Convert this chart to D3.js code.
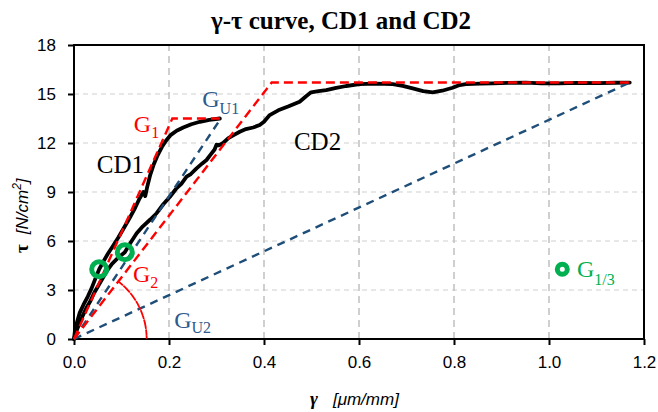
<!DOCTYPE html>
<html>
<head>
<meta charset="utf-8">
<script src="https://cdn.jsdelivr.net/npm/d3@7"></script>
<style>
  body { margin: 0; background: #fff; }
  svg { display: block; }
  .tick text { font-family: "Liberation Sans", Arial, sans-serif; font-size: 17px; fill: #000; }
</style>
</head>
<body>
<svg id="chart"></svg>
<script>
// gamma [um/mm], tau [N/cm2]
const cd1 = [
  [0, 0], [0.002, 0.5], [0.006, 1.0], [0.012, 1.6], [0.020, 2.1], [0.029, 2.6],
  [0.037, 3.1], [0.045, 3.7], [0.053, 4.27], [0.062, 4.75], [0.071, 5.2], [0.082, 5.7],
  [0.093, 6.2], [0.105, 6.8], [0.118, 7.45], [0.129, 8.05], [0.138, 8.6], [0.146, 9.0],
  [0.150, 8.75], [0.154, 9.3], [0.160, 10.0], [0.168, 10.7], [0.176, 11.25], [0.185, 11.75],
  [0.194, 12.15], [0.204, 12.5], [0.216, 12.75], [0.230, 12.95], [0.247, 13.15],
  [0.265, 13.3], [0.285, 13.42], [0.307, 13.5]
];
const cd2 = [
  [0, 0], [0.004, 0.4], [0.010, 0.85], [0.018, 1.4], [0.026, 1.9], [0.034, 2.3],
  [0.042, 2.8], [0.050, 3.2], [0.060, 3.7], [0.070, 4.2], [0.080, 4.6], [0.092, 4.95],
  [0.107, 5.31], [0.118, 5.85], [0.132, 6.47], [0.145, 6.9], [0.160, 7.3], [0.174, 7.7],
  [0.188, 8.25], [0.202, 8.71], [0.215, 9.2], [0.226, 9.5], [0.237, 9.94], [0.246, 10.1],
  [0.258, 10.45], [0.270, 10.75], [0.279, 10.96], [0.288, 11.3], [0.296, 11.6], [0.300, 11.9],
  [0.305, 11.85], [0.314, 12.0], [0.325, 12.3], [0.337, 12.5], [0.349, 12.69], [0.362, 12.85],
  [0.377, 12.95], [0.391, 13.1], [0.400, 13.3], [0.412, 13.71], [0.430, 14.0], [0.452, 14.25],
  [0.475, 14.53], [0.488, 14.85], [0.499, 15.1], [0.515, 15.18], [0.531, 15.24], [0.552, 15.38],
  [0.573, 15.49], [0.601, 15.61], [0.635, 15.63], [0.671, 15.61], [0.692, 15.5], [0.713, 15.35],
  [0.735, 15.18], [0.755, 15.1], [0.775, 15.2], [0.797, 15.38], [0.812, 15.55], [0.825, 15.61],
  [0.855, 15.63], [0.881, 15.65], [0.915, 15.68], [0.951, 15.7], [0.985, 15.65], [1.021, 15.65],
  [1.060, 15.68], [1.105, 15.67], [1.140, 15.69], [1.170, 15.7]
];

const g1 = [[0, 0], [0.207, 13.5], [0.309, 13.5]];
const gU1 = [[0, 0], [0.309, 13.5]];
const g2 = [[0, 0], [0.416, 15.7], [1.17, 15.7]];
const gU2 = [[0, 0], [1.17, 15.7]];
const oneThirdPoints = [[0.053, 4.27], [0.107, 5.31]];
const arcGamma = 0.153;

const xTicks = [0, 0.2, 0.4, 0.6, 0.8, 1.0, 1.2];
const yTicks = [0, 3, 6, 9, 12, 15, 18];

const red = "#ff0000";
const blue = "#1f4e79";
const blueText = "#2e5a8c";
const green = "#00b050";

// annotation anchors, in data units
const labels = [
  { main: "G", sub: "1", at: [0.126, 12.69], color: red, dy: 6 },
  { main: "G", sub: "U1", at: [0.270, 14.19], color: blueText, dy: 7 },
  { main: "G", sub: "2", at: [0.124, 3.49], color: red, dy: 6 },
  { main: "G", sub: "U2", at: [0.211, 0.67], color: blueText, dy: 5 },
  { main: "G", sub: "1/3", at: [1.059, 3.8], color: green, dy: 8 },
  { main: "CD1", sub: "", at: [0.048, 10.16], color: "#000", dy: 0 },
  { main: "CD2", sub: "", at: [0.463, 11.57], color: "#000", dy: 0 }
];
const legendPoint = [1.028, 4.27];

const width = 658;
const height = 412;
const margin = { top: 45, right: 14, bottom: 73, left: 74 };

const svg = d3.select("#chart")
  .attr("width", width)
  .attr("height", height);

const x = d3.scaleLinear().domain([0, 1.2]).range([margin.left, width - margin.right]);
const y = d3.scaleLinear().domain([0, 18]).range([height - margin.bottom, margin.top]);

// grid
svg.append("g")
  .selectAll("line")
  .data(yTicks.slice(1, -1))
  .join("line")
  .attr("x1", x(0)).attr("x2", x(1.2))
  .attr("y1", d => y(d)).attr("y2", d => y(d))
  .attr("stroke", "#d0d0d0")
  .attr("stroke-width", 1.2)
  .attr("stroke-dasharray", "5,4");

svg.append("g")
  .selectAll("line")
  .data(xTicks.slice(1, -1))
  .join("line")
  .attr("x1", d => x(d)).attr("x2", d => x(d))
  .attr("y1", y(0)).attr("y2", y(18))
  .attr("stroke", "#c0c0c0")
  .attr("stroke-width", 1.5)
  .attr("stroke-dasharray", "7,5");

// axes
const xAxis = svg.append("g")
  .attr("transform", `translate(0,${y(0)})`)
  .call(d3.axisBottom(x).tickValues(xTicks).tickFormat(d3.format(".1f")).tickSize(6).tickPadding(11));
const yAxis = svg.append("g")
  .attr("transform", `translate(${x(0)},0)`)
  .call(d3.axisLeft(y).tickValues(yTicks).tickFormat(d3.format("d")).tickSize(6).tickPadding(12));
[xAxis, yAxis].forEach(a => {
  a.select(".domain").remove();
  a.selectAll(".tick line").attr("stroke", "#000").attr("stroke-width", 2);
});

svg.append("rect")
  .attr("x", x(0)).attr("y", y(18))
  .attr("width", x(1.2) - x(0)).attr("height", y(0) - y(18))
  .attr("fill", "none")
  .attr("stroke", "#000")
  .attr("stroke-width", 2);

const line = d3.line().x(d => x(d[0])).y(d => y(d[1]));

// measured curves
[cd1, cd2].forEach(data => {
  svg.append("path")
    .datum(data)
    .attr("d", line)
    .attr("fill", "none")
    .attr("stroke", "#000")
    .attr("stroke-width", 3.8)
    .attr("stroke-linejoin", "round")
    .attr("stroke-linecap", "round");
});

// secant moduli
[gU1, gU2].forEach(data => {
  svg.append("path")
    .datum(data)
    .attr("d", line)
    .attr("fill", "none")
    .attr("stroke", blue)
    .attr("stroke-width", 2.4)
    .attr("stroke-dasharray", "8,6");
});

// bilinear fits
[g1, g2].forEach(data => {
  svg.append("path")
    .datum(data)
    .attr("d", line)
    .attr("fill", "none")
    .attr("stroke", red)
    .attr("stroke-width", 2.4)
    .attr("stroke-dasharray", "9,5");
});

// angle arc for G2
const r = x(arcGamma) - x(0);
const angG2 = Math.atan2(x(g2[1][0]) - x(0), y(0) - y(g2[1][1]));
svg.append("path")
  .attr("transform", `translate(${x(0)},${y(0)})`)
  .attr("d", d3.arc()({ innerRadius: r, outerRadius: r, startAngle: angG2, endAngle: Math.PI / 2 }))
  .attr("fill", "none")
  .attr("stroke", red)
  .attr("stroke-width", 1.8)
  .attr("stroke-dasharray", "6,4");

// G at 1/3 of strength
svg.append("g")
  .selectAll("circle")
  .data(oneThirdPoints)
  .join("circle")
  .attr("cx", d => x(d[0]))
  .attr("cy", d => y(d[1]))
  .attr("r", 7.5)
  .attr("fill", "none")
  .attr("stroke", green)
  .attr("stroke-width", 5);

svg.append("circle")
  .attr("cx", x(legendPoint[0]))
  .attr("cy", y(legendPoint[1]))
  .attr("r", 5)
  .attr("fill", "none")
  .attr("stroke", green)
  .attr("stroke-width", 5);

// annotations
labels.forEach(l => {
  const t = svg.append("text")
    .attr("x", x(l.at[0]))
    .attr("y", y(l.at[1]))
    .attr("fill", l.color)
    .style("font-family", "'Liberation Serif', 'Times New Roman', serif")
    .style("font-size", l.sub ? "24px" : "25px");
  t.append("tspan").text(l.main);
  if (l.sub) {
    t.append("tspan")
      .attr("dy", l.dy)
      .style("font-size", "16px")
      .text(l.sub);
  }
});

// title
svg.append("text")
  .attr("x", 341)
  .attr("y", 29)
  .attr("text-anchor", "middle")
  .style("font-family", "'Liberation Serif', 'Times New Roman', serif")
  .style("font-weight", "bold")
  .style("font-size", "25px")
  .text("γ-τ curve, CD1 and CD2");

// x label
const xl = svg.append("text")
  .attr("x", 310)
  .attr("y", 405)
  .style("font-size", "17px");
xl.append("tspan")
  .style("font-family", "'Liberation Serif', 'Times New Roman', serif")
  .style("font-style", "italic")
  .style("font-weight", "bold")
  .style("font-size", "19px")
  .text("γ");
xl.append("tspan")
  .attr("dx", 15)
  .style("font-family", "'Liberation Sans', Arial, sans-serif")
  .style("font-style", "italic")
  .text("[μm/mm]");

// y label
const yl = svg.append("text")
  .attr("transform", "translate(28,253) rotate(-90)")
  .style("font-size", "17px");
yl.append("tspan")
  .style("font-family", "'Liberation Serif', 'Times New Roman', serif")
  .style("font-weight", "bold")
  .style("font-size", "19px")
  .text("τ");
yl.append("tspan")
  .attr("dx", 10)
  .style("font-family", "'Liberation Sans', Arial, sans-serif")
  .style("font-style", "italic")
  .text("[N/cm");
yl.append("tspan")
  .attr("dy", -7)
  .style("font-family", "'Liberation Sans', Arial, sans-serif")
  .style("font-style", "italic")
  .style("font-size", "12px")
  .text("2");
yl.append("tspan")
  .attr("dy", 7)
  .style("font-family", "'Liberation Sans', Arial, sans-serif")
  .style("font-style", "italic")
  .text("]");
</script>
</body>
</html>
